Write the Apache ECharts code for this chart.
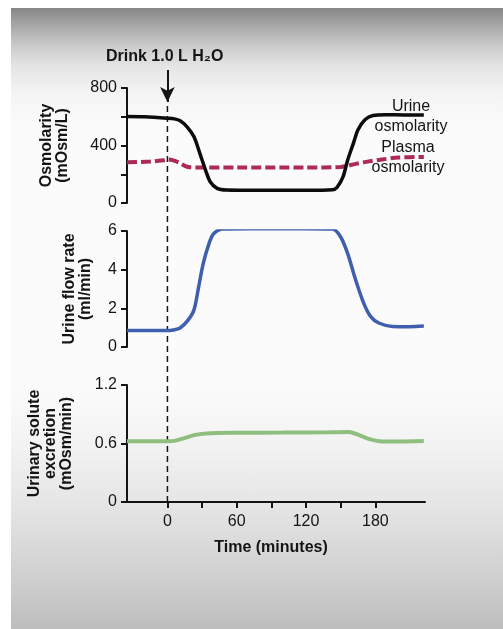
<!DOCTYPE html>
<html>
<head>
<meta charset="utf-8">
<script src="https://cdn.jsdelivr.net/npm/echarts@6/dist/echarts.min.js"></script>
<style>
html,body{margin:0;padding:0;width:503px;height:629px;background:#fff;overflow:hidden}
#bg{position:absolute;left:11px;top:8px;width:492px;height:621px;
background:linear-gradient(to bottom,#868686 0px,#a8a8a8 18px,#cbcbcb 38px,#e4e4e4 58px,#f4f4f4 85px,#fbfbfb 120px,#fbfbfb 380px,#f2f2f2 440px,#e2e2e2 510px,#cfcfcf 570px,#bdbdbd 621px)}
#main{position:absolute;left:0;top:0;width:503px;height:629px}
</style>
</head>
<body>
<div id="bg"></div>
<div id="main"></div>
<script>
// ---- data (time in minutes) ----
const urineOsmTime  = [-35, -20, 0, 6, 11, 17, 23, 28, 33, 37, 43, 51, 80, 120, 143, 147, 152, 156, 161, 165, 171, 178, 189, 205, 222];
const urineOsmValue = [602, 600, 590, 585, 572, 530, 461, 347, 229, 148, 102, 90, 88, 88, 92, 110, 181, 298, 415, 509, 579, 609, 614, 613, 612];

const plasmaOsmTime  = [-35, -15, -3, 0, 5, 11, 17, 25, 60, 120, 150, 155, 163, 172, 186, 200, 222];
const plasmaOsmValue = [284, 288, 298, 303, 296, 277, 252, 247, 247, 247, 250, 258, 272, 286, 303, 316, 320];

const flowTime  = [-35, -15, 0, 5, 11, 18, 23, 27, 31, 36, 40, 48, 70, 120, 143, 150, 156, 163, 170, 176, 183, 195, 210, 222];
const flowValue = [0.85, 0.85, 0.85, 0.88, 0.98, 1.4, 1.92, 3.1, 4.32, 5.35, 5.86, 6.1, 6.12, 6.12, 6.1, 5.69, 4.84, 3.46, 2.26, 1.57, 1.24, 1.06, 1.05, 1.08];

const soluteTime  = [-35, -10, 0, 6, 14, 23, 34, 57, 100, 140, 157, 166, 175, 186, 200, 222];
const soluteValue = [0.624, 0.624, 0.624, 0.627, 0.652, 0.686, 0.703, 0.71, 0.712, 0.715, 0.718, 0.686, 0.645, 0.621, 0.621, 0.626];

const drinkTime = 0;
const timeMin = -35, timeMax = 223;
const timeTickValues = [0, 30, 60, 90, 120, 150, 180];
const timeLabelValues = [0, 60, 120, 180];
const osmLabelValues = [0, 400, 800];

const pairs = (t, v) => t.map((x, i) => [x, v[i]]);

const FONT = '"Liberation Sans", Arial, Helvetica, sans-serif';
const INK = '#141414';
const LEFT = 127, WIDTH = 298;

const axisLineStyle = { show: true, onZero: false, lineStyle: { color: INK, width: 2 } };
const tickStyle = { show: true, length: 6, lineStyle: { color: INK, width: 2 } };
const labelStyle = { show: true, color: INK, fontSize: 16, fontFamily: FONT, margin: 10 };
const nameStyle = { color: INK, fontSize: 16, fontWeight: 'bold', fontFamily: FONT, lineHeight: 16 };

const hiddenX = (grid) => ({ type: 'value', gridIndex: grid, min: timeMin, max: timeMax, show: false });

const chart = echarts.init(document.getElementById('main'), null, { renderer: 'canvas' });

chart.setOption({
  backgroundColor: 'transparent',
  animation: false,
  grid: [
    { left: LEFT, width: WIDTH, top: 88, height: 115, containLabel: false, outerBoundsMode: 'none' },
    { left: LEFT, width: WIDTH, top: 231, height: 116, containLabel: false, outerBoundsMode: 'none' },
    { left: LEFT, width: WIDTH, top: 385, height: 117, containLabel: false, outerBoundsMode: 'none' },
    { left: LEFT, width: WIDTH, top: 70, height: 432, containLabel: false, outerBoundsMode: 'none' }
  ],
  xAxis: [
    hiddenX(0),
    hiddenX(1),
    {
      type: 'value', gridIndex: 2, min: timeMin, max: timeMax,
      axisLine: axisLineStyle,
      axisTick: Object.assign({}, tickStyle, { customValues: timeTickValues }),
      axisLabel: Object.assign({}, labelStyle, { margin: 12, customValues: timeLabelValues }),
      splitLine: { show: false },
      name: 'Time (minutes)', nameLocation: 'middle', nameGap: 38,
      nameTextStyle: Object.assign({}, nameStyle, { padding: [0, 10, 0, 0] })
    },
    hiddenX(3)
  ],
  yAxis: [
    {
      type: 'value', gridIndex: 0, min: 0, max: 800, interval: 200,
      axisLine: axisLineStyle, axisTick: tickStyle,
      axisLabel: Object.assign({}, labelStyle, {
        formatter: v => (osmLabelValues.indexOf(v) >= 0 ? String(v) : '')
      }),
      splitLine: { show: false },
      name: 'Osmolarity\n(mOsm/L)', nameLocation: 'middle', nameGap: 56, nameRotate: 90,
      nameTextStyle: nameStyle
    },
    {
      type: 'value', gridIndex: 1, min: 0, max: 6, interval: 2,
      axisLine: axisLineStyle, axisTick: tickStyle, axisLabel: labelStyle,
      splitLine: { show: false },
      name: 'Urine flow rate\n(ml/min)', nameLocation: 'middle', nameGap: 33, nameRotate: 90,
      nameTextStyle: nameStyle
    },
    {
      type: 'value', gridIndex: 2, min: 0, max: 1.2, interval: 0.6,
      axisLine: axisLineStyle, axisTick: tickStyle, axisLabel: labelStyle,
      splitLine: { show: false },
      name: 'Urinary solute\nexcretion\n(mOsm/min)', nameLocation: 'middle', nameGap: 52, nameRotate: 90,
      nameTextStyle: nameStyle
    },
    { type: 'value', gridIndex: 3, min: 0, max: 1, show: false }
  ],
  series: [
    {
      name: 'Plasma osmolarity', type: 'line', xAxisIndex: 0, yAxisIndex: 0,
      data: pairs(plasmaOsmTime, plasmaOsmValue), smooth: 0.3, showSymbol: false, z: 2,
      lineStyle: { color: '#ad2a55', width: 4, type: [10, 4], cap: 'butt' }
    },
    {
      name: 'Urine osmolarity', type: 'line', xAxisIndex: 0, yAxisIndex: 0,
      data: pairs(urineOsmTime, urineOsmValue), smooth: 0.3, showSymbol: false, z: 3,
      lineStyle: { color: '#0c0c0c', width: 3.5, cap: 'butt' }
    },
    {
      name: 'Urine flow rate', type: 'line', xAxisIndex: 1, yAxisIndex: 1,
      data: pairs(flowTime, flowValue), smooth: 0.3, showSymbol: false,
      lineStyle: { color: '#3f5fae', width: 3.5, cap: 'butt' }
    },
    {
      name: 'Urinary solute excretion', type: 'line', xAxisIndex: 2, yAxisIndex: 2,
      data: pairs(soluteTime, soluteValue), smooth: 0.3, showSymbol: false,
      lineStyle: { color: '#8ebf7f', width: 4, cap: 'butt' }
    },
    {
      name: 'Drink', type: 'line', xAxisIndex: 3, yAxisIndex: 3,
      data: [[drinkTime, 0], [drinkTime, 0.92]], showSymbol: false, z: 1,
      lineStyle: { color: INK, width: 1.5, type: [6, 4] },
      markLine: {
        silent: true, symbol: ['none', 'arrow'], symbolSize: [11, 15],
        label: { show: false },
        lineStyle: { color: INK, width: 2, type: 'solid' },
        data: [[{ coord: [drinkTime, 1] }, { coord: [drinkTime, 0.926] }]]
      }
    }
  ],
  graphic: [
    {
      type: 'text', left: 168 - 62, top: 49,
      style: { text: 'Drink 1.0 L H₂O', fill: INK, font: 'bold 16px ' + FONT }
    },
    {
      type: 'text', x: 411, y: 97,
      style: { text: 'Urine\nosmolarity', fill: INK, font: '16px ' + FONT, align: 'center', lineHeight: 20 }
    },
    {
      type: 'text', x: 408, y: 138,
      style: { text: 'Plasma\nosmolarity', fill: INK, font: '16px ' + FONT, align: 'center', lineHeight: 20 }
    }
  ]
});
</script>
</body>
</html>
